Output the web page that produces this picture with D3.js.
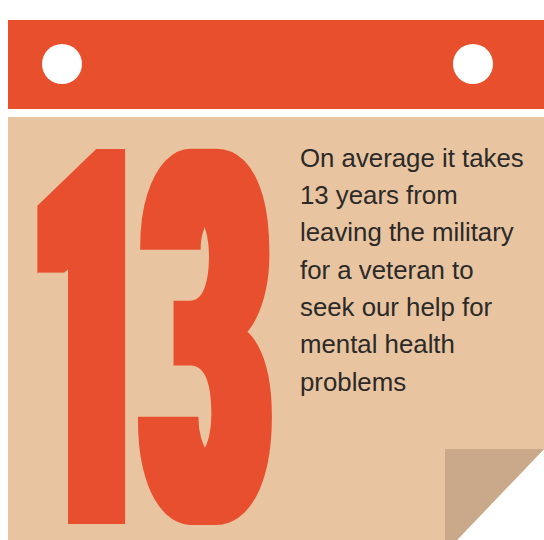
<!DOCTYPE html>
<html>
<head>
<meta charset="utf-8">
<script src="https://cdn.jsdelivr.net/npm/d3@7"></script>
<style>
  html, body { margin: 0; padding: 0; background: #ffffff; }
  svg { display: block; }
</style>
</head>
<body>
<div id="chart"></div>
<script>
// ---- data ----
const bigNumber = "13";
const captionLines = [
  "On average it takes",
  "13 years from",
  "leaving the military",
  "for a veteran to",
  "seek our help for",
  "mental health",
  "problems"
];

// ---- layout ----
const W = 544, H = 540;
const RED = "#e8502d", PAGE = "#e8c4a0", FOLD = "#c9a989", INK = "#2b2a28";

const svg = d3.select("#chart").append("svg")
  .attr("width", W).attr("height", H)
  .attr("viewBox", `0 0 ${W} ${H}`);

// header bar
const bar = { x: 8, y: 20, w: W - 8, h: 89 };
svg.append("rect").attr("x", bar.x).attr("y", bar.y)
  .attr("width", bar.w).attr("height", bar.h).attr("fill", RED);

// binding holes
const holeX = d3.scalePoint().domain([0, 1]).range([62, 473]);
svg.selectAll("circle.hole").data([0, 1]).join("circle")
  .attr("class", "hole")
  .attr("cx", d => holeX(d)).attr("cy", bar.y + 44).attr("r", 20)
  .attr("fill", "#ffffff");

// page with folded corner
const pageTop = 117, foldX = 445, foldY = 449, foldBx = 457;
const pagePath = d3.path();
pagePath.moveTo(bar.x, pageTop);
pagePath.lineTo(W, pageTop);
pagePath.lineTo(W, foldY);
pagePath.lineTo(foldBx, H);
pagePath.lineTo(bar.x, H);
pagePath.closePath();
svg.append("path").attr("d", pagePath.toString()).attr("fill", PAGE);

const foldPath = d3.path();
foldPath.moveTo(foldX, foldY);
foldPath.lineTo(W, foldY);
foldPath.lineTo(foldBx, H);
foldPath.lineTo(foldX, H);
foldPath.closePath();
svg.append("path").attr("d", foldPath.toString()).attr("fill", FOLD);

// big number "13": real text, each glyph squeezed to the reference's ink box,
// then thickened horizontally with a morphology filter (blocky compressed look)
const digitFont = "Roboto";
const digitWeight = 900;
const baseSize = 400;
const rx = 13, ry = 1;
const digitBoxes = [
  { x0: 36.7, x1: 127.7, y0: 145, y1: 524 },
  { x0: 136.3, x1: 273.3, y0: 142, y1: 528 }
];

const defs = svg.append("defs");
defs.append("filter").attr("id", "bulk")
  .attr("filterUnits", "userSpaceOnUse")
  .attr("x", 0).attr("y", 0).attr("width", W).attr("height", H)
  .append("feMorphology")
  .attr("operator", "dilate")
  .attr("radius", `${rx} ${ry}`);

const ctx = document.createElement("canvas").getContext("2d");
ctx.font = `${digitWeight} ${baseSize}px ${digitFont}`;
ctx.textBaseline = "alphabetic";
ctx.textAlign = "left";

const ms = bigNumber.split("").map((ch, i) => {
  const m = ctx.measureText(ch);
  const b = digitBoxes[i];
  const r = { ch, adv: m.width, L: -m.actualBoundingBoxLeft, R: m.actualBoundingBoxRight,
              T: -m.actualBoundingBoxAscent, B: m.actualBoundingBoxDescent };
  r.kx = (b.x1 - b.x0 - 2 * rx) / (r.R - r.L);      // screen x-scale at base size
  r.syi = (b.y1 - b.y0 - 2 * ry) / (r.B - r.T);     // screen y-scale at base size
  return r;
});
const sy = d3.mean(ms, m => m.syi);
const sx = d3.mean(ms, m => m.kx);

const bigText = svg.append("g").attr("filter", "url(#bulk)")
  .append("text")
  .attr("class", "big-number")
  .attr("transform", `scale(${sx},${sy})`)
  .attr("font-family", digitFont)
  .attr("font-weight", digitWeight)
  .attr("font-size", baseSize)
  .attr("fill", RED);

ms.forEach((m, i) => {
  const b = digitBoxes[i];
  const k = m.syi / sy;               // per-digit size factor (exact height)
  const kxi = m.kx / k;               // horizontal screen scale at that size
  bigText.append("tspan")
    .attr("font-size", baseSize * k)
    .attr("x", (b.x0 + rx - m.L * k * kxi) / sx)
    .attr("y", (b.y0 + ry) / sy - m.T * k)
    .attr("textLength", m.adv * k * kxi / sx)
    .attr("lengthAdjust", "spacingAndGlyphs")
    .text(m.ch);
});

// caption
const lineY = d3.scaleLinear().domain([0, 1]).range([166.7, 166.7 + 37.33]);
svg.append("g").selectAll("text").data(captionLines).join("text")
  .attr("x", 300)
  .attr("y", (d, i) => lineY(i))
  .attr("font-family", "'Liberation Sans', Arial, sans-serif")
  .attr("font-size", 25.8)
  .attr("fill", INK)
  .text(d => d);
</script>
</body>
</html>
